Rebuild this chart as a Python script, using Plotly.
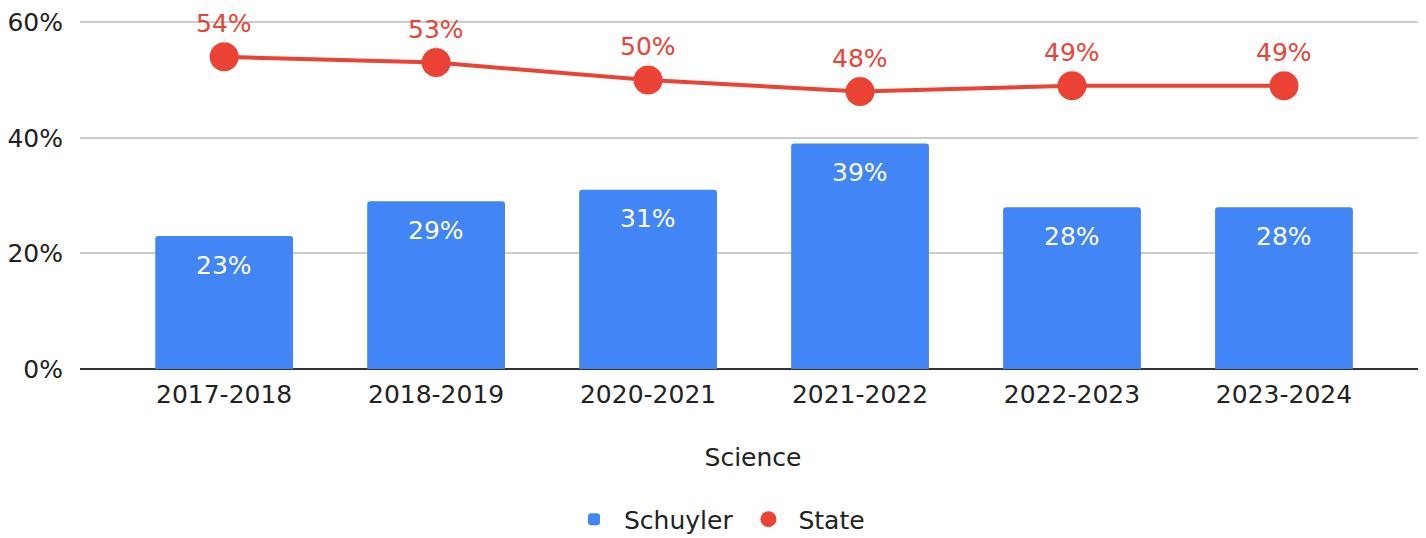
import plotly.graph_objects as go

# school years and results (percent)
years = ['2017-2018', '2018-2019', '2020-2021', '2021-2022', '2022-2023', '2023-2024']
schuyler = [23, 29, 31, 39, 28, 28]
state = [54, 53, 50, 48, 49, 49]
y_ticks = [0, 20, 40, 60]
y_tick_labels = ['0%', '20%', '40%', '60%']

blue = '#4285F4'
red = '#EA4335'
font = 'DejaVu Sans'
fsize = 25

fig = go.Figure()
fig.add_trace(go.Bar(x=years, y=schuyler, name='Schuyler',
                     marker=dict(color=blue, line=dict(width=0)),
                     width=0.65, hoverinfo='skip'))
# line drawn separately so the legend only shows the dot
fig.add_trace(go.Scatter(x=years, y=state, mode='lines', showlegend=False,
                         line=dict(color=red, width=4), hoverinfo='skip'))
fig.add_trace(go.Scatter(x=years, y=state, mode='markers', name='State',
                         marker=dict(color=red, size=29), hoverinfo='skip'))

annotations = []
for yr, v in zip(years, schuyler):
    annotations.append(dict(x=yr, y=v, text=f'{v}%', showarrow=False,
                            yanchor='middle', yshift=-29,
                            font=dict(family=font, size=fsize, color='white')))
for yr, v in zip(years, state):
    annotations.append(dict(x=yr, y=v, text=f'{v}%', showarrow=True,
                            ax=0, ay=-33, arrowhead=0, arrowwidth=1,
                            arrowcolor='#d9d9d9', standoff=14, borderpad=0,
                            font=dict(family=font, size=fsize, color=red)))

# page has an 8px body margin, so the figure is 8px smaller and shifted
fig.update_layout(
    width=1418, height=530,
    margin=dict(l=72, r=0, t=13, b=169),
    paper_bgcolor='white', plot_bgcolor='white',
    font=dict(family=font, size=fsize, color='#222222'),
    barcornerradius=3,
    annotations=annotations,
    legend=dict(orientation='h', xref='container', yref='container',
                x=0.5, xanchor='center', y=0.035, yanchor='middle',
                font=dict(size=fsize, color='#222222'), itemwidth=50),
    xaxis=dict(range=[-0.68, 5.67], showgrid=False, ticks='',
               ticklabelstandoff=8,
               title=dict(text='Science', standoff=40,
                          font=dict(size=fsize, color='#222222'))),
    yaxis=dict(range=[0, 60.2], tickvals=y_ticks, ticktext=y_tick_labels,
               ticklabeloverflow='allow',
               gridcolor='#cccccc', gridwidth=1.5,
               zeroline=True, zerolinecolor='#333333', zerolinewidth=1.5,
               ticklabelstandoff=16),
)

fig.write_html('out.html')
